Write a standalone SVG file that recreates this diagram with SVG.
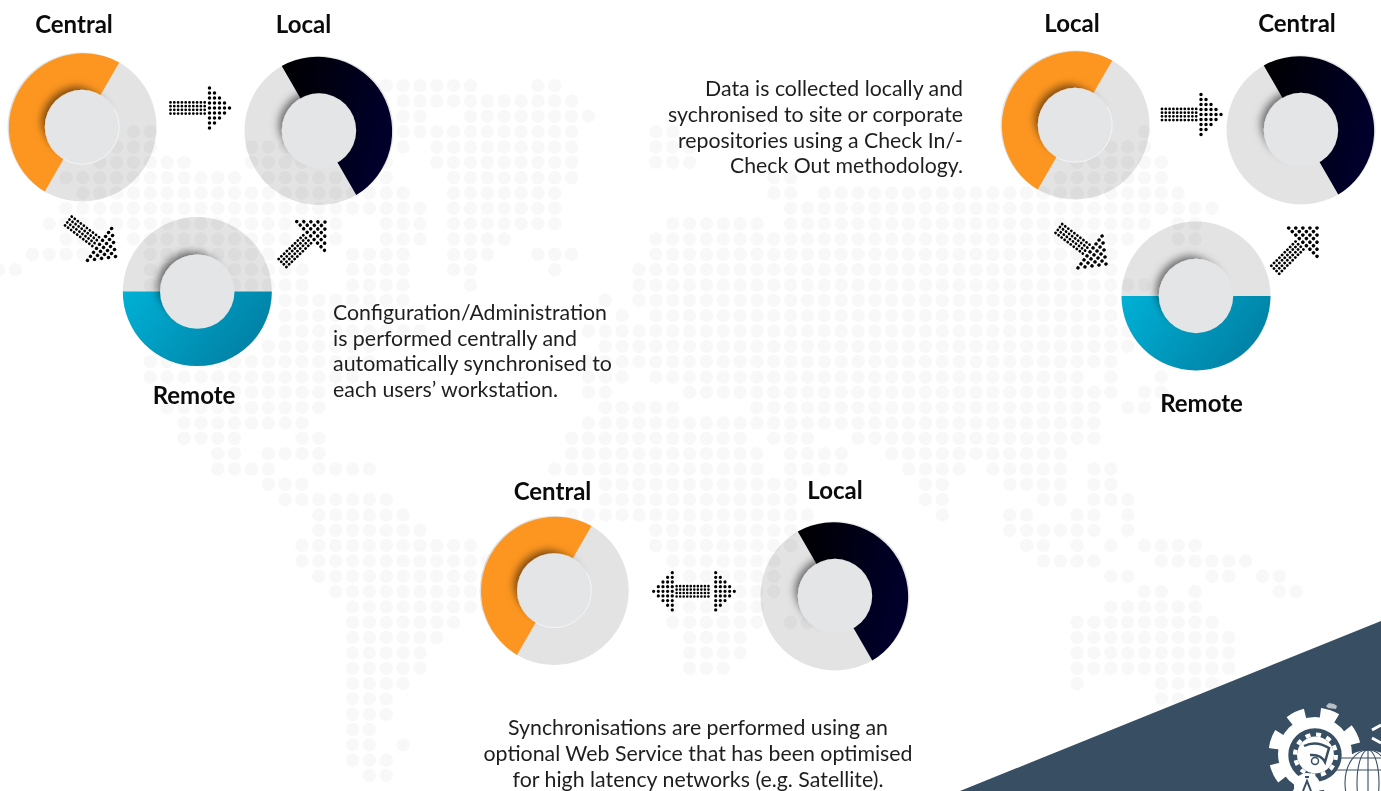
<svg xmlns="http://www.w3.org/2000/svg" width="1381" height="791" viewBox="0 0 1381 791">
<style>
text{font-family:Lato,"Open Sans","Liberation Sans",sans-serif}
.h{font-size:24px;font-weight:700;fill:#0b0b0b;text-anchor:middle}
.b{font-size:22px;fill:#1e1e1e}
.ring{fill:#e3e3e3;mix-blend-mode:multiply}
.hub{fill:#e4e5e7;filter:url(#sh)}
.hl{fill:none;stroke:#f6f6f6;stroke-width:1}
.or{fill:#fd9620}
.dk{fill:url(#gd)}
.bl{fill:url(#gb)}
.dot{fill:none;stroke:#000;stroke-linecap:round;stroke-width:3.5}
.map{fill:none;stroke:#f8f8f8;stroke-linecap:round;stroke-width:13.4;stroke-dasharray:0 16.85;vector-effect:non-scaling-stroke}
.w{fill:#fff}
.k{fill:none;stroke:#384f63}
</style>
<defs>
<filter id="sh" x="-40%" y="-40%" width="180%" height="180%"><feMorphology in="SourceAlpha" operator="erode" radius="3"/><feOffset dx="-6" dy="-6"/><feGaussianBlur stdDeviation="4.5" result="b"/><feFlood flood-color="#000" flood-opacity=".55"/><feComposite in2="b" operator="in"/><feMerge><feMergeNode/><feMergeNode in="SourceGraphic"/></feMerge></filter>
<linearGradient id="gd" x1="0" y1="0" x2="1" y2=".3"><stop offset="0" stop-color="#000"/><stop offset="1" stop-color="#00002b"/></linearGradient>
<linearGradient id="gb" x1="0" y1="0" x2="1" y2=".4"><stop offset="0" stop-color="#00b1d6"/><stop offset="1" stop-color="#0082a6"/></linearGradient>
<path id="po" class="or" d="M37.25-64.5A74.5 74.5 0 0 0-37.25 64.5Z"/>
<path id="pd" class="dk" d="M-37.25-64.5A74.5 74.5 0 0 1 37.25 64.5Z"/>
<path id="pb" class="bl" d="M-74.5 0A74.5 74.5 0 0 0 74.5 0Z"/>
<g id="head" class="dot" stroke-dasharray="0 5"><path d="M-20-20V20.1M-15-15V15.1M-10-10V10.1M-5-5V5.1M0 0V.1"/></g>
<g id="shaft" class="dot" stroke-dasharray="0 3.8" style="stroke-width:2.8"><path d="M-59-5.55H-22M-59-1.85H-22M-59 1.85H-22M-59 5.55H-22"/></g>
<g id="arrow"><use href="#head"/><use href="#shaft"/></g>
</defs>
<rect width="1381" height="791" fill="#fff"/>
<path id="map" class="map" transform="translate(15.55 208.3) scale(16.85 15.33)" d="M22 -8H27.1M31 -8H32.1M23 -7H33.1M23 -6H24.1M27 -6H34.1M7 -5H8.1M23 -5H33.1M38 -5H39.1M67 -5H67.1M6 -4H8.1M14 -4H16.1M23 -4H23.1M25 -4H33.1M38 -4H40.1M65 -4H67.1M5 -3H10.1M14 -3H17.1M22 -3H22.1M25 -3H33.1M38 -3H40.1M63 -3H68.1M3 -2H13.1M15 -2H22.1M26 -2H33.1M45 -2H46.1M62 -2H68.1M4 -1H23.1M26 -1H32.1M45 -1H46.1M48 -1H69.1M3 0H24.1M26 0H32.1M46 0H71.1M2 1H19.1M22 1H24.1M26 1H32.1M39 1H44.1M46 1H67.1M69 1H70.1M3 2H4.1M7 2H16.1M19 2H19.1M22 2H24.1M26 2H29.1M38 2H66.1M69 2H70.1M1 3H5.1M8 3H15.1M20 3H23.1M26 3H28.1M31 3H33.1M38 3H65.1M-1 4H0.1M8 4H17.1M20 4H23.1M26 4H27.1M32 4H32.1M37 4H65.1M8 5H17.1M20 5H23.1M27 5H27.1M37 5H67.1M16 6H23.1M35 6H35.1M37 6H65.1M16 7H21.1M36 7H36.1M38 7H65.1M16 8H24.1M34 8H66.1M15 9H21.1M35 9H66.1M8 10H21.1M34 10H65.1M8 11H20.1M34 11H36.1M38 11H63.1M65 11H65.1M68 11H68.1M13 12H18.1M34 12H35.1M40 12H65.1M67 12H68.1M9 13H18.1M35 13H39.1M44 13H64.1M66 13H67.1M10 14H17.1M34 14H64.1M10 15H13.1M17 15H18.1M33 15H43.1M45 15H47.1M50 15H64.1M12 16H13.1M15 16H18.1M33 16H44.1M46 16H49.1M52 16H62.1M12 17H15.1M18 17H21.1M32 17H44.1M46 17H49.1M53 17H56.1M58 17H62.1M64 17H65.1M15 18H17.1M35 18H46.1M54 18H55.1M59 18H62.1M64 18H65.1M16 19H22.1M35 19H46.1M54 19H55.1M61 19H62.1M64 19H66.1M18 20H23.1M33 20H47.1M55 20H55.1M59 20H60.1M63 20H64.1M66 20H66.1M18 21H24.1M38 21H46.1M59 21H64.1M66 21H66.1M17 22H27.1M38 22H46.1M60 22H61.1M63 22H63.1M65 22H65.1M67 22H70.1M17 23H28.1M39 23H45.1M61 23H64.1M68 23H73.1M18 24H28.1M39 24H45.1M65 24H66.1M71 24H72.1M74 24H75.1M19 25H28.1M39 25H45.1M67 25H68.1M70 25H70.1M75 25H76.1M20 26H28.1M39 26H44.1M65 26H70.1M20 27H26.1M39 27H44.1M46 27H47.1M63 27H71.1M20 28H25.1M40 28H43.1M63 28H72.1M20 29H24.1M40 29H43.1M63 29H72.1M20 30H24.1M40 30H42.1M63 30H72.1M20 31H23.1M63 31H63.1M68 31H71.1M20 32H22.1M68 32H69.1M20 33H22.1M20 34H21.1M20 35H21.1M23 35H23.1M20 36H22.1M21 37H22.1"/>

<g id="corner">
<polygon points="960,791 1381,621 1381,791" fill="#384f63"/>
<circle class="w" cx="1315" cy="754" r="37"/>
<circle cx="1315" cy="754" r="41" fill="none" stroke="#fff" stroke-width="11" stroke-dasharray="17 15.2" transform="rotate(-38 1315 754)"/>
<circle cx="1315" cy="755" r="26.7" fill="#384f63"/>
<circle class="w" cx="1315.5" cy="755" r="18.5"/>
<circle cx="1315.5" cy="755" r="20.5" fill="none" stroke="#fff" stroke-width="4" stroke-dasharray="5 5.73"/>
<path d="M1304 746Q1316 740 1329 748L1325 762Q1321 754 1310 755" class="k" stroke-width="2.5"/>
<circle cx="1315" cy="761" r="3.5" class="k" stroke-width="1.5"/>
<circle class="w" cx="1307" cy="786" r="13"/>
<path d="M1303 791L1307 781L1311 791M1305 777h4" class="k" stroke-width="2"/>
<circle class="w" cx="1368" cy="783" r="33"/>
<g class="k" stroke-width="1.1"><ellipse cx="1368" cy="783" rx="11" ry="33"/><ellipse cx="1368" cy="783" rx="23" ry="33"/><path d="M1368 750V791M1335 770H1381M1338 758H1381"/></g>
<path d="M1372 730L1381 725M1372 738L1381 743" stroke="#fff" stroke-width="3" fill="none"/>
<path d="M1326 706l3-3l5 1l3 2l-1 3l-8-1Z" fill="#b9bfc5"/>
</g>

<g id="central-1" transform="translate(82 127)"><circle class="ring" r="74.5"/><use href="#po"/><circle class="hub" r="37.2"/><path class="hl" d="M32.2-18.6A37.2 37.2 0 0 1-18.6 32.2"/></g>
<g id="local-1" transform="translate(319 130.5)"><circle class="ring" r="74.5"/><use href="#pd"/><circle class="hub" r="37.2"/></g>
<g id="remote-1" transform="translate(197.3 291.6)"><circle class="ring" r="74.5"/><use href="#pb"/><circle class="hub" r="37.2"/></g>
<g id="local-2" transform="translate(1075 125)"><circle class="ring" r="74.5"/><use href="#po"/><circle class="hub" r="37.2"/><path class="hl" d="M32.2-18.6A37.2 37.2 0 0 1-18.6 32.2"/></g>
<g id="central-2" transform="translate(1301 130)"><circle class="ring" r="74.5"/><use href="#pd"/><circle class="hub" r="37.2"/></g>
<g id="remote-2" transform="translate(1196 296)"><circle class="ring" r="74.5"/><use href="#pb"/><circle class="hub" r="37.2"/></g>
<g id="central-3" transform="translate(554.2 590.4)"><circle class="ring" r="74.5"/><use href="#po"/><circle class="hub" r="37.2"/><path class="hl" d="M32.2-18.6A37.2 37.2 0 0 1-18.6 32.2"/></g>
<g id="local-3" transform="translate(835 596)"><circle class="ring" r="74.5"/><use href="#pd"/><circle class="hub" r="37.2"/></g>

<g id="connectors">
<use href="#arrow" transform="translate(229.5 108)"/>
<use href="#arrow" transform="translate(115.5 256.5) rotate(37)"/>
<use href="#arrow" transform="translate(325 222) rotate(-44)"/>
<use href="#arrow" transform="translate(1221 114.5)"/>
<use href="#arrow" transform="translate(1106 264) rotate(37)"/>
<use href="#arrow" transform="translate(1317 228) rotate(-45)"/>
<g transform="translate(734.3 591.3) scale(.93)"><use href="#head"/><use href="#shaft" transform="translate(-3 0)"/><use href="#head" transform="translate(-86.7 0) scale(-1 1)"/></g>
</g>

<g id="labels">
<text class="h" x="74" y="33">Central</text>
<text class="h" x="303.5" y="33">Local</text>
<text class="h" x="194" y="404">Remote</text>
<text class="h" x="1072" y="32">Local</text>
<text class="h" x="1297" y="32">Central</text>
<text class="h" x="1201.5" y="412">Remote</text>
<text class="h" x="552.5" y="500">Central</text>
<text class="h" x="835" y="499">Local</text>
<g class="b"><text x="333" y="320" textLength="274" lengthAdjust="spacingAndGlyphs">Configuration/Administration</text><text x="333" y="346" textLength="244" lengthAdjust="spacingAndGlyphs">is performed centrally and</text><text x="333" y="371" textLength="279" lengthAdjust="spacingAndGlyphs">automatically synchronised to</text><text x="333" y="397" textLength="225" lengthAdjust="spacingAndGlyphs">each users’ workstation.</text></g>
<g class="b" text-anchor="end"><text x="963" y="96" textLength="258" lengthAdjust="spacingAndGlyphs">Data is collected locally and</text><text x="963" y="122" textLength="295" lengthAdjust="spacingAndGlyphs">sychronised to site or corporate</text><text x="963" y="148" textLength="285" lengthAdjust="spacingAndGlyphs">repositories using a Check In/-</text><text x="963" y="173" textLength="233" lengthAdjust="spacingAndGlyphs">Check Out methodology.</text></g>
<g class="b" text-anchor="middle"><text x="698" y="735" textLength="380" lengthAdjust="spacingAndGlyphs">Synchronisations are performed using an</text><text x="698" y="761" textLength="429" lengthAdjust="spacingAndGlyphs">optional Web Service that has been optimised</text><text x="698" y="787" textLength="371" lengthAdjust="spacingAndGlyphs">for high latency networks (e.g. Satellite).</text></g>
</g>
</svg>
